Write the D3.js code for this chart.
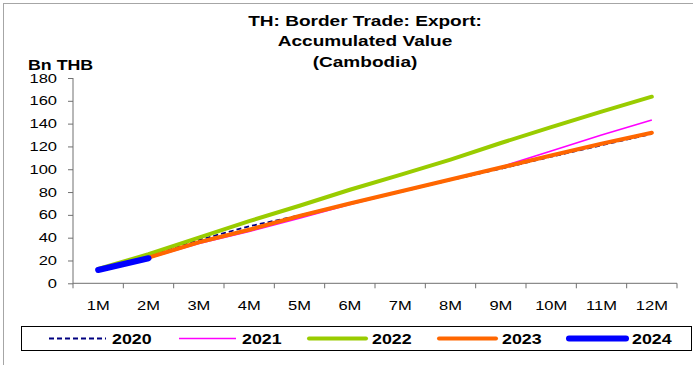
<!DOCTYPE html>
<meta charset="utf-8">
<style>
body { margin: 0; background: #fff; }
text { font-family: "Liberation Sans", Arial, sans-serif; fill: #000; }
.axis path, .axis line { stroke: #707070; }
</style>
<body>
<svg width="693" height="365"></svg>
<script src="https://cdn.jsdelivr.net/npm/d3@7"></script>
<script>

// data (Bn THB, accumulated)
var months = ["1M", "2M", "3M", "4M", "5M", "6M", "7M", "8M", "9M", "10M", "11M", "12M"];
var years = ["2020", "2021", "2022", "2023", "2024"];
var v2020 = [12, 24, 38, 50, 59.5, 70, 80, 90.5, 100.5, 111, 121, 131];
var v2021 = [12, 22, 35, 45.5, 57, 69, 80, 91, 102, 116, 130, 143.2];
var v2022 = [12.5, 25.5, 40, 54.5, 68, 82, 95, 108.5, 123, 137, 150.5, 163.6];
var v2023 = [12, 22.5, 36, 47, 59, 70, 80.5, 91, 101.5, 112, 122.4, 132];
var v2024 = [11.7, 22];
var yTicks = [0, 20, 40, 60, 80, 100, 120, 140, 160, 180];

var colors = ["#000080", "#ff00ff", "#99cc00", "#ff6600", "#0000ff"];
var widths = [1.8, 1.6, 4, 4, 6];
var dashes = ["5,3", null, null, null, null];

var svg = d3.select("svg");
var sx = 1.27; // text in the reference is drawn stretched sideways

// outer frame
svg.append("rect")
    .attr("x", 3.5).attr("y", 3.5)
    .attr("width", 700).attr("height", 400)
    .attr("fill", "none")
    .attr("stroke", "#a6a6a6");

var x = d3.scaleBand()
    .domain(months)
    .range([73, 677]);

var y = d3.scaleLinear()
    .domain([0, 180])
    .range([283.3, 78]);

function label(g, px, py, txt, size, weight, anchor) {
    return g.append("text")
        .attr("transform", "translate(" + px + "," + py + ") scale(" + sx + ",1)")
        .attr("text-anchor", anchor || "middle")
        .attr("font-size", size)
        .attr("font-weight", weight || "normal")
        .text(txt);
}

// title
["TH: Border Trade: Export:", "Accumulated Value", "(Cambodia)"].forEach(function(t, i) {
    label(svg, 365, 25.7 + i * 20.6, t, 15, "bold");
});

label(svg, 28, 69.5, "Bn THB", 14, "bold", "start");

// y axis
var yAxis = svg.append("g")
    .attr("class", "axis")
    .attr("transform", "translate(73,0)")
    .call(d3.axisLeft(y).tickValues(yTicks).tickSize(5).tickFormat(""));
yAxis.select(".domain").attr("d", "M0," + y(180) + "V" + y(0));

yTicks.forEach(function(t) {
    label(svg, 57, y(t) + 4.6, String(t), 13, "normal", "end");
});

// x axis, ticks on the category boundaries
var xAxis = svg.append("g")
    .attr("class", "axis")
    .attr("transform", "translate(0," + y(0) + ")");
xAxis.append("path")
    .attr("d", "M73,0H677")
    .attr("stroke", "#707070");
xAxis.selectAll("line")
    .data(months.concat(["end"]))
    .enter().append("line")
    .attr("x1", function(d, i) { return 73 + i * x.step(); })
    .attr("x2", function(d, i) { return 73 + i * x.step(); })
    .attr("y1", 0).attr("y2", 5)
    .attr("stroke", "#707070");

months.forEach(function(m) {
    label(svg, x(m) + x.bandwidth() / 2, 309.5, m, 13);
});

// series
var series = [v2020, v2021, v2022, v2023, v2024];
var line = d3.line()
    .x(function(d, i) { return x(months[i]) + x.bandwidth() / 2; })
    .y(function(d) { return y(d); });

series.forEach(function(vals, i) {
    svg.append("path")
        .datum(vals)
        .attr("fill", "none")
        .attr("stroke", colors[i])
        .attr("stroke-width", widths[i])
        .attr("stroke-dasharray", dashes[i])
        .attr("stroke-linecap", i >= 2 ? "round" : "butt")
        .attr("stroke-linejoin", "round")
        .attr("d", line);
});

// legend
var lg = svg.append("g");
lg.append("rect")
    .attr("x", 21.5).attr("y", 326.5)
    .attr("width", 670).attr("height", 24)
    .attr("fill", "#fff")
    .attr("stroke", "#000");

years.forEach(function(yr, i) {
    var lx = 49 + i * 130;
    lg.append("line")
        .attr("x1", lx).attr("x2", lx + 57)
        .attr("y1", 338.5).attr("y2", 338.5)
        .attr("stroke", colors[i])
        .attr("stroke-width", widths[i])
        .attr("stroke-dasharray", dashes[i])
        .attr("stroke-linecap", i >= 2 ? "round" : "butt");
    label(lg, lx + 63, 343.5, yr, 14, "bold", "start");
});

</script>
</body>
